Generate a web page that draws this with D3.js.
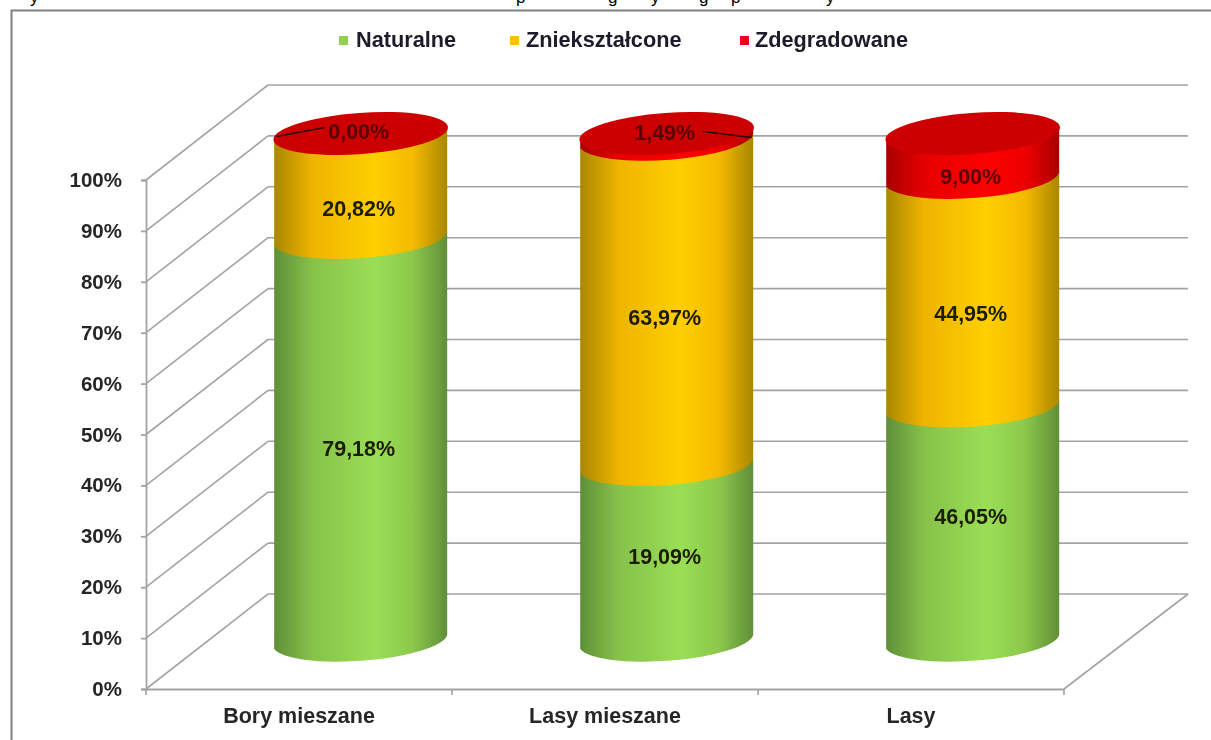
<!DOCTYPE html>
<html lang="pl">
	<head>
		<meta charset="utf-8">
		<title>Naturalne, zniekształcone, zdegradowane</title>
		<script type="text/javascript" src="https://cdn.jsdelivr.net/npm/d3@7/dist/d3.min.js"></script>
		<style type="text/css">
			html, body { margin: 0; padding: 0; background: #fff; overflow: hidden; }
			text { font-family: "Liberation Sans", Arial, sans-serif; font-weight: bold; }
		</style>
	</head>
	<body>
		<script type="text/javascript">

			//Data
			var categories = ["Bory mieszane", "Lasy mieszane", "Lasy"];
			var seriesNames = ["Naturalne", "Zniekształcone", "Zdegradowane"];
			var seriesColors = ["#92d050", "#ffc000", "#e8001c"];

			//drawn heights as they stand in the picture
			var naturalne = [79.18, 34.54, 46.05];
			var znieksztalcone = [20.82, 63.97, 44.95];
			var zdegradowane = [0, 1.49, 9.00];

			//printed labels (the 19,09% does not match its drawn height in the original)
			var naturalneLabels = ["79,18%", "19,09%", "46,05%"];
			var znieksztalconeLabels = ["20,82%", "63,97%", "44,95%"];
			var zdegradowaneLabels = ["0,00%", "1,49%", "9,00%"];

			//where the labels sit, read against the front axis
			var naturalneLabelAt = [47.2, 26.1, 34];
			var znieksztalconeLabelAt = [94.5, 73.1, 73.9];
			var zdegradowaneLabelAt = [109.6, 109.4, 100.8];

			var yTicks = [0, 10, 20, 30, 40, 50, 60, 70, 80, 90, 100];

			//only the bottoms of this clipped caption line show at the top of the picture
			var captionBits = ["y", "p", "g", "y", "g", "p", "y"];
			var captionBitX = [30, 516, 608, 651, 699, 731, 826];

			//Layout
			var w = 1211;
			var h = 740;
			var x0 = 146, x1 = 1064;
			var y0 = 689, y100 = 180;
			var depthX = 122, depthY = 95;

			var svg = d3.select("body")
						.append("svg")
						.attr("width", w)
						.attr("height", h);

			var defs = svg.append("defs");

			defs.append("filter")
				.attr("id", "soft")
				.attr("x", "-5%").attr("y", "-5%")
				.attr("width", "110%").attr("height", "110%")
				.append("feGaussianBlur")
				.attr("stdDeviation", 0.7);

			//side shading of the cylinders
			var shades = [
				["gradGreen", "#5f8f38", "#86c24a", "#9ade55", "#8cc84c", "#608f38"],
				["gradYellow", "#a98700", "#eeb400", "#ffcf00", "#f4ba00", "#a98700"],
				["gradRed", "#a80000", "#e60000", "#ff0000", "#ee0000", "#a80000"]
			];
			shades.forEach(function(s) {
				var g = defs.append("linearGradient").attr("id", s[0]);
				[0, 0.22, 0.58, 0.8, 1].forEach(function(o, i) {
					g.append("stop").attr("offset", o).attr("stop-color", s[i + 1]);
				});
			});

			var chart = svg.append("g").attr("filter", "url(#soft)");

			//Scales
			var xScale = d3.scaleBand()
							.domain(categories)
							.range([x0, x1]);

			var yScale = d3.scaleLinear()
							.domain([0, 100])
							.range([y0, y100]);

			//Scale along the axis of the cylinders, half way into the depth
			var cylScale = d3.scaleLinear()
							.domain([0, 100])
							.range([642, 133.5]);

			//Frame
			chart.append("path")
				.attr("d", "M11.5," + (h + 5) + "V10.5H" + (w + 5))
				.attr("fill", "none")
				.attr("stroke", "#808080")
				.attr("stroke-width", 2);

			//Walls and floor
			var wallColor = "#a3a3a3";

			chart.selectAll("line.back")
				.data(yTicks)
				.enter()
				.append("line")
				.attr("class", "back")
				.attr("x1", x0 + depthX)
				.attr("x2", x1 + depthX + 2)
				.attr("y1", function(d) { return yScale(d) - depthY; })
				.attr("y2", function(d) { return yScale(d) - depthY; })
				.attr("stroke", wallColor)
				.attr("stroke-width", 1.6);

			chart.selectAll("line.side")
				.data(yTicks)
				.enter()
				.append("line")
				.attr("class", "side")
				.attr("x1", x0)
				.attr("x2", x0 + depthX)
				.attr("y1", function(d) { return yScale(d); })
				.attr("y2", function(d) { return yScale(d) - depthY; })
				.attr("stroke", wallColor)
				.attr("stroke-width", 1.6);

			chart.append("line")
				.attr("x1", x1).attr("y1", y0)
				.attr("x2", x1 + depthX + 2).attr("y2", y0 - depthY)
				.attr("stroke", wallColor)
				.attr("stroke-width", 1.6);

			//Axes
			var yAxis = d3.axisLeft(yScale)
							.tickValues(yTicks)
							.tickFormat(function(d) { return d + "%"; })
							.tickSize(5)
							.tickPadding(19);

			var xAxis = d3.axisBottom(xScale)
							.tickSize(0)
							.tickPadding(19);

			var yG = chart.append("g")
				.attr("transform", "translate(" + x0 + ",0)")
				.call(yAxis);

			var xG = chart.append("g")
				.attr("transform", "translate(0," + y0 + ")")
				.call(xAxis);

			//Category boundary ticks
			chart.selectAll("line.xtick")
				.data(categories.concat("end"))
				.enter()
				.append("line")
				.attr("class", "xtick")
				.attr("x1", function(d, i) { return x0 + i * xScale.step(); })
				.attr("x2", function(d, i) { return x0 + i * xScale.step(); })
				.attr("y1", y0)
				.attr("y2", y0 + 6)
				.attr("stroke", wallColor)
				.attr("stroke-width", 1.6);

			[yG, xG].forEach(function(g) {
				g.selectAll(".domain, .tick line")
					.attr("stroke", wallColor)
					.attr("stroke-width", 1.8);
				g.selectAll("text")
					.attr("font-family", null)
					.attr("font-size", null)
					.attr("fill", "#262626");
			});
			yG.selectAll("text").style("font-size", "20.5px");
			xG.selectAll("text").style("font-size", "21.5px").attr("dy", "0.71em");

			//Cylinders
			var rx = 87.5, capRy = 20.6, bodyRy = 21.5, tilt = -4.1;
			var edgeX = 86.5, edgeY = 7;

			function cx(cat) {
				return xScale(cat) + xScale.bandwidth() / 2 + depthX / 2 + 0.7;
			}

			function bodyPath(cat, from, to) {
				var c = cx(cat), yb = cylScale(from), yt = cylScale(to);
				return "M" + (c - edgeX) + "," + (yt + edgeY) +
					"L" + (c - edgeX) + "," + (yb + edgeY) +
					"A" + rx + "," + bodyRy + " " + tilt + " 0 0 " + (c + edgeX) + "," + (yb - edgeY) +
					"L" + (c + edgeX) + "," + (yt - edgeY) + "Z";
			}

			var stacks = [naturalne, znieksztalcone, zdegradowane];
			var gradIds = ["gradGreen", "gradYellow", "gradRed"];

			categories.forEach(function(cat, i) {
				var base = 0;
				stacks.forEach(function(values, s) {
					chart.append("path")
						.attr("d", bodyPath(cat, base, base + values[i]))
						.attr("fill", "url(#" + gradIds[s] + ")");
					base += values[i];
				});
				//top of the stack
				chart.append("ellipse")
					.attr("cx", 0)
					.attr("cy", 0)
					.attr("rx", rx)
					.attr("ry", capRy)
					.attr("transform", "translate(" + cx(cat) + "," + cylScale(base) + ") rotate(" + tilt + ")")
					.attr("fill", "#cc0000");
			});

			//Leader lines for the two thin red slices
			var leaders = [[0, -84, 3, -36, -6], [1, 36, -2, 85, 4]];
			leaders.forEach(function(l) {
				var c = cx(categories[l[0]]), y = cylScale(100);
				chart.append("line")
					.attr("x1", c + l[1]).attr("y1", y + l[2])
					.attr("x2", c + l[3]).attr("y2", y + l[4])
					.attr("stroke", "#2a0000")
					.attr("stroke-width", 1.5);
			});

			//Value labels
			var labelRows = [
				[naturalneLabels, naturalneLabelAt],
				[znieksztalconeLabels, znieksztalconeLabelAt],
				[zdegradowaneLabels, zdegradowaneLabelAt]
			];
			labelRows.forEach(function(row, s) {
				chart.selectAll("text.v" + s)
					.data(row[0])
					.enter()
					.append("text")
					.attr("class", "v" + s)
					.text(function(d) { return d; })
					.attr("text-anchor", "middle")
					.attr("dy", "0.36em")
					.attr("x", function(d, i) { return cx(categories[i]) - 2; })
					.attr("y", function(d, i) { return yScale(row[1][i]); })
					.style("font-size", "21.5px")
					.attr("fill", function() { return s == 2 ? "#5a0000" : "#1c1c00"; });
			});

			//Legend
			var legendSwatchX = [339, 510, 740];
			var legendTextX = [356, 526, 755];

			var legend = chart.selectAll("g.legend")
				.data(seriesNames)
				.enter()
				.append("g")
				.attr("class", "legend");

			legend.append("rect")
				.attr("x", function(d, i) { return legendSwatchX[i]; })
				.attr("y", 36)
				.attr("width", 9)
				.attr("height", 9)
				.attr("fill", function(d, i) { return seriesColors[i]; });

			legend.append("text")
				.text(function(d) { return d; })
				.attr("x", function(d, i) { return legendTextX[i]; })
				.attr("y", 47)
				.style("font-size", "21.7px")
				.attr("fill", "#1a1a2a");

			//Cut off caption line above the frame
			svg.append("clipPath")
				.attr("id", "capClip")
				.append("rect")
				.attr("width", w)
				.attr("height", 8);

			svg.append("g")
				.attr("clip-path", "url(#capClip)")
				.selectAll("text")
				.data(captionBits)
				.enter()
				.append("text")
				.text(function(d) { return d; })
				.attr("x", function(d, i) { return captionBitX[i]; })
				.attr("y", 3)
				.style("font-size", "17px")
				.style("font-weight", "normal")
				.attr("fill", "#000");

		</script>
	</body>
</html>
